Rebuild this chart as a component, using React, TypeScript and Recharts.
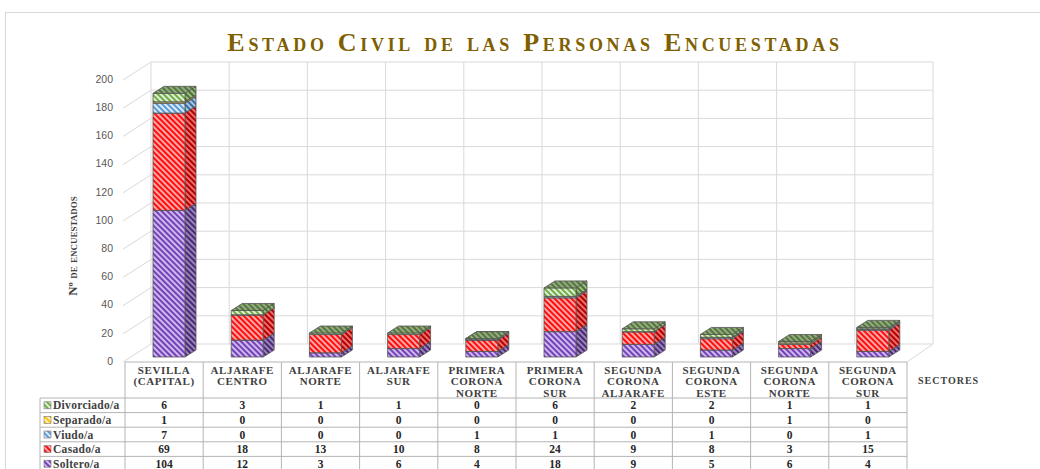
import React from "react";
import { BarChart, Bar, XAxis, YAxis, CartesianGrid, Label } from "recharts";

// sectores (cabecera de la tabla, "\n" = salto de línea)
const sectores = [
  "SEVILLA\n(CAPITAL)",
  "ALJARAFE\nCENTRO",
  "ALJARAFE\nNORTE",
  "ALJARAFE\nSUR",
  "PRIMERA\nCORONA\nNORTE",
  "PRIMERA\nCORONA\nSUR",
  "SEGUNDA\nCORONA\nALJARAFE",
  "SEGUNDA\nCORONA\nESTE",
  "SEGUNDA\nCORONA\nNORTE",
  "SEGUNDA\nCORONA\nSUR",
];

const soltero = [104, 12, 3, 6, 4, 18, 9, 5, 6, 4];
const casado = [69, 18, 13, 10, 8, 24, 9, 8, 3, 15];
const viudo = [7, 0, 0, 0, 1, 1, 0, 1, 0, 1];
const separado = [1, 0, 0, 0, 0, 0, 0, 0, 1, 0];
const divorciado = [6, 3, 1, 1, 0, 6, 2, 2, 1, 1];

const yTicks = [0, 20, 40, 60, 80, 100, 120, 140, 160, 180, 200];

// orden de apilado (de abajo arriba)
const series = [
  { key: "soltero", name: "Soltero/a", values: soltero },
  { key: "casado", name: "Casado/a", values: casado },
  { key: "viudo", name: "Viudo/a", values: viudo },
  { key: "separado", name: "Separado/a", values: separado },
  { key: "divorciado", name: "Divorciado/a", values: divorciado },
];

const data = sectores.map((s, i) => {
  const row: any = { sector: s };
  series.forEach((se) => (row[se.key] = se.values[i]));
  return row;
});

// colores: frente (fg/bg), lateral y tapa
const PAL: Record<string, any> = {
  soltero: { fg: "#7540b8", bg: "#cdbaec", sfg: "#4a2973", sbg: "#9a83bc", tfg: "#5d3890", tbg: "#b6a2d6" },
  casado: { fg: "#ff0d0d", bg: "#ffa6a6", sfg: "#b30000", sbg: "#ee6e6e", tfg: "#d00000", tbg: "#ff8c8c" },
  viudo: { fg: "#5b9bd5", bg: "#dcebf8", sfg: "#3b6d9c", sbg: "#a6c6e4", tfg: "#4a82b8", tbg: "#c0d8ee" },
  separado: { fg: "#ffc000", bg: "#fff2c4", sfg: "#c08f00", sbg: "#f5d670", tfg: "#e0a800", tbg: "#ffe28a" },
  divorciado: { fg: "#70ad47", bg: "#e0efd5", sfg: "#4b7430", sbg: "#9dbb86", tfg: "#56763f", tbg: "#93ab80" },
};

// geometría 3D
const WALL_DX = 26;
const WALL_DY = -17;
const BAR_SHIFT_X = 5;
const BAR_SHIFT_Y = -4;
const DEPTH_X = 11;
const DEPTH_Y = -7;

const GRID = "#d9d9d9";
const BORDER = "#b4b4b4";
const SERIF = "'Liberation Serif', 'Times New Roman', serif";
const SANS = "'Liberation Sans', Arial, sans-serif";

function Pattern({ id, fg, bg }: { id: string; fg: string; bg: string }) {
  return (
    <pattern id={id} width="4" height="4" patternUnits="userSpaceOnUse" patternTransform="rotate(-45)">
      <rect width="4" height="4" fill={bg} />
      <rect width="2" height="4" fill={fg} />
    </pattern>
  );
}

function makeBox(k: string) {
  return (p: any) => {
    const { x, y, width, height } = p;
    if (x == null || y == null || width == null) return <g />;
    const X = x + BAR_SHIFT_X;
    const Y = y + BAR_SHIFT_Y;
    const w = width;
    const h = Math.max(0, height || 0);
    const side = `M${X + w},${Y}l${DEPTH_X},${DEPTH_Y}v${h}l${-DEPTH_X},${-DEPTH_Y}Z`;
    const front = `M${X},${Y}h${w}v${h}h${-w}Z`;
    const top = `M${X},${Y}l${DEPTH_X},${DEPTH_Y}h${w}l${-DEPTH_X},${-DEPTH_Y}Z`;
    return (
      <g>
        <path d={side} fill={`url(#p-${k}-s)`} stroke="#555" strokeWidth={0.8} strokeLinejoin="round" />
        <path d={front} fill={`url(#p-${k})`} stroke="#555" strokeWidth={0.8} />
        <path d={top} fill={`url(#p-${k}-t)`} stroke="#555" strokeWidth={0.8} strokeLinejoin="round" />
      </g>
    );
  };
}

function HLine(props: any) {
  const { x1, x2, y1, y, height } = props;
  const isFloor = Math.abs(y1 - (y + height)) < 1;
  return (
    <g>
      <line x1={x1 + WALL_DX} y1={y1 + WALL_DY} x2={x2 + WALL_DX} y2={y1 + WALL_DY} stroke={GRID} />
      <line x1={x1 - 2} y1={y1 + 1} x2={x1 + WALL_DX} y2={y1 + WALL_DY} stroke={GRID} />
      {isFloor && <line x1={x2} y1={y1 + 1} x2={x2 + WALL_DX} y2={y1 + WALL_DY} stroke={GRID} />}
    </g>
  );
}

function VLine(props: any) {
  const { x1, y1, y2 } = props;
  return <line x1={x1 + WALL_DX} y1={y1 + WALL_DY} x2={x1 + WALL_DX} y2={y2 + WALL_DY} stroke={GRID} />;
}

const tableRows = [...series].reverse();
const HEADER_H = 36;
const ROW_H = 14.6;
const LABEL_COL_X = 40;

function TableTick(props: any) {
  const { x, y, payload, index, width } = props;
  const n = sectores.length;
  const bw = (width || 782) / n;
  const left = x - bw / 2;
  const right = x + bw / 2;
  const T = y + 1;
  const H = T + HEADER_H;
  const bottom = H + ROW_H * tableRows.length;
  const lines = String(payload.value).split("\n");
  const textStyle = { fontFamily: SERIF, fontWeight: 700, fill: "#404040" } as const;
  return (
    <g>
      <line x1={left} y1={T} x2={right} y2={T} stroke={BORDER} />
      <line x1={left} y1={T} x2={left} y2={bottom} stroke={BORDER} />
      {index === n - 1 && <line x1={right} y1={T} x2={right} y2={bottom} stroke={BORDER} />}
      {tableRows.map((r, i) => (
        <line key={r.key} x1={left} y1={H + i * ROW_H} x2={right} y2={H + i * ROW_H} stroke={BORDER} />
      ))}
      {lines.map((l, i) => (
        <text key={i} x={x} y={T + 8 + i * 11.5} dy="0.35em" textAnchor="middle" fontSize={11} letterSpacing={0.6} {...textStyle}>
          {l}
        </text>
      ))}
      {tableRows.map((r, i) => (
        <text key={r.key} x={x} y={H + ROW_H / 2 + i * ROW_H} dy="0.35em" textAnchor="middle" fontSize={11.5} {...textStyle} fill="#262626">
          {r.values[index]}
        </text>
      ))}
      {index === 0 && (
        <g>
          <line x1={LABEL_COL_X} y1={H} x2={LABEL_COL_X} y2={bottom} stroke={BORDER} />
          {tableRows.map((r, i) => (
            <g key={r.key}>
              <line x1={LABEL_COL_X} y1={H + i * ROW_H} x2={left} y2={H + i * ROW_H} stroke={BORDER} />
              <rect x={LABEL_COL_X + 4} y={H + ROW_H / 2 + i * ROW_H - 3.5} width={7} height={7} fill={`url(#p-${r.key})`} stroke="#777" strokeWidth={0.6} />
              <text x={LABEL_COL_X + 13} y={H + ROW_H / 2 + i * ROW_H} dy="0.35em" fontSize={11.5} letterSpacing={0.3} {...textStyle}>
                {r.name}
              </text>
            </g>
          ))}
        </g>
      )}
      {index === n - 1 && (
        <text x={right + 11} y={T + 18} dy="0.35em" fontSize={10} letterSpacing={1} {...textStyle}>
          SECTORES
        </text>
      )}
    </g>
  );
}

function YTitle(props: any) {
  const vb = props.viewBox || { x: 80, y: 79, height: 282 };
  const cx = vb.x - 8;
  const cy = vb.y + vb.height / 2 + 26;
  return (
    <text
      x={cx}
      y={cy}
      transform={`rotate(-90, ${cx}, ${cy})`}
      textAnchor="middle"
      dy="0.35em"
      fontFamily={SERIF}
      fontWeight={700}
      fontSize={13}
      fill="#404040"
      style={{ fontVariant: "small-caps" }}
    >
      Nº de encuestados
    </text>
  );
}

export default function App() {
  return (
    <div style={{ position: "absolute", left: 0, top: 0, width: 1040, height: 469, overflow: "hidden", background: "#fff" }}>
      <div style={{ position: "absolute", left: 5, top: 12, width: 1100, height: 520, border: "1px solid #d9d9d9" }} />
      <div
        style={{
          position: "absolute",
          left: 0,
          top: 28,
          width: 1070,
          textAlign: "center",
          fontFamily: SERIF,
          fontWeight: 700,
          fontVariant: "small-caps",
          fontSize: 26,
          letterSpacing: 3.7,
          color: "#7f6000",
          lineHeight: "30px",
        }}
      >
        Estado Civil de las Personas Encuestadas
      </div>
      <div style={{ position: "absolute", left: 0, top: 0 }}>
        <BarChart width={1040} height={469} data={data} margin={{ top: 79, right: 133, bottom: 0, left: 80 }} barSize={32}>
          <defs>
            {series.map((s) => (
              <React.Fragment key={s.key}>
                <Pattern id={`p-${s.key}`} fg={PAL[s.key].fg} bg={PAL[s.key].bg} />
                <Pattern id={`p-${s.key}-s`} fg={PAL[s.key].sfg} bg={PAL[s.key].sbg} />
                <Pattern id={`p-${s.key}-t`} fg={PAL[s.key].tfg} bg={PAL[s.key].tbg} />
              </React.Fragment>
            ))}
          </defs>
          <CartesianGrid
            horizontal={(p: any) => <HLine key={p.key} {...p} />}
            vertical={(p: any) => <VLine key={p.key} {...p} />}
            verticalCoordinatesGenerator={({ offset }: any) =>
              sectores.map((_, i) => offset.left + (i * offset.width) / sectores.length).concat(offset.left + offset.width)
            }
          />
          <XAxis
            dataKey="sector"
            interval={0}
            axisLine={false}
            tickLine={false}
            tickSize={0}
            tickMargin={0}
            height={108}
            tick={<TableTick />}
          />
          <YAxis
            type="number"
            domain={[0, 200]}
            ticks={yTicks}
            interval={0}
            width={45}
            axisLine={false}
            tickLine={false}
            tickSize={0}
            tickMargin={12}
            tick={{ fontFamily: SANS, fontSize: 10.5, fill: "#595959" }}
          >
            <Label content={<YTitle />} />
          </YAxis>
          {series.map((s) => (
            <Bar key={s.key} dataKey={s.key} name={s.name} stackId="a" isAnimationActive={false} shape={makeBox(s.key)} />
          ))}
        </BarChart>
      </div>
    </div>
  );
}
